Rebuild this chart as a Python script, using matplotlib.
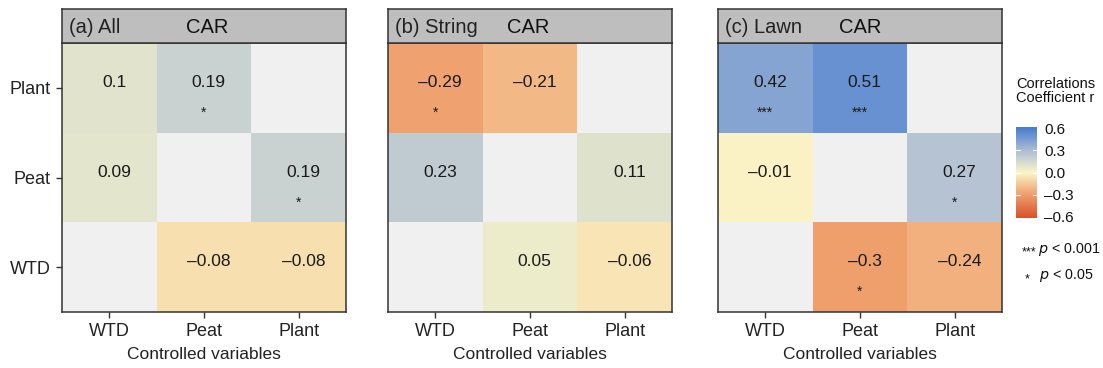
import numpy as np
import matplotlib
matplotlib.use('Agg')
import matplotlib.pyplot as plt
from matplotlib.colors import LinearSegmentedColormap, Normalize

plt.rcParams['font.family'] = ['Liberation Sans', 'DejaVu Sans']

# Data: rows listed bottom -> top, columns left -> right
row_labels = ['WTD', 'Peat', 'Plant']
col_labels = ['WTD', 'Peat', 'Plant']
panel_titles = ['(a) All', '(b) String', '(c) Lawn']
nan = np.nan

r_all = [[nan, -0.08, -0.08],
         [0.09, nan, 0.19],
         [0.10, 0.19, nan]]
sig_all = [['', '', ''],
           ['', '', '*'],
           ['', '*', '']]

r_string = [[nan, 0.05, -0.06],
            [0.23, nan, 0.11],
            [-0.29, -0.21, nan]]
sig_string = [['', '', ''],
              ['', '', ''],
              ['*', '', '']]

r_lawn = [[nan, -0.30, -0.24],
          [-0.01, nan, 0.27],
          [0.42, 0.51, nan]]
sig_lawn = [['', '*', ''],
            ['', '', '*'],
            ['***', '***', '']]

r_values = [r_all, r_string, r_lawn]
sig_values = [sig_all, sig_string, sig_lawn]
cbar_ticks = [0.6, 0.3, 0.0, -0.3, -0.6]

# colour scale
lim = 0.62
nodes = [(-0.6, '#d9572e'), (-0.3, '#ef9f6c'), (0.0, '#faf6c8'),
         (0.3, '#aebdd4'), (0.6, '#4a7fd0')]
cmap = LinearSegmentedColormap.from_list(
    'corr', [((v + lim) / (2 * lim), c) for v, c in
             [(-lim, '#d6532b')] + nodes + [(lim, '#477dd0')]])
cmap.set_bad('#f0f0f0')
norm = Normalize(-lim, lim)

W, H = 1103, 368
fig = plt.figure(figsize=(W / 100, H / 100), dpi=100)

lefts = [62, 388, 718]
car_x = [0.437, 0.419, 0.426]
ax_w = 284
top_strip, strip_bot, bottom = 9, 43, 312
edge = '#333333'
txt = '#1a1a1a'

for i in range(3):
    ax = fig.add_axes([lefts[i] / W, (H - bottom) / H, ax_w / W, (bottom - strip_bot) / H])
    data = np.ma.masked_invalid(np.array(r_values[i]))
    ax.pcolormesh(np.arange(4), np.arange(4), data, cmap=cmap, norm=norm)
    for r in range(3):
        for c in range(3):
            v = r_values[i][r][c]
            if np.isnan(v):
                continue
            ax.text(c + 0.55, r + 0.56, f'{v:g}'.replace('-', '\u2013'), ha='center', va='center',
                    fontsize=12.5, color=txt)
            s = sig_values[i][r][c]
            if s:
                ax.text(c + 0.5, r + 0.22, s, ha='center', va='center', fontsize=10, color=txt)
    ax.set_xlim(0, 3)
    ax.set_ylim(0, 3)
    ax.set_xticks(np.arange(3) + 0.5)
    ax.set_xticklabels(col_labels, fontsize=13, color='#222222')
    ax.set_yticks(np.arange(3) + 0.5)
    if i == 0:
        ax.set_yticklabels(row_labels, fontsize=13, color='#222222')
    else:
        ax.set_yticks([])
    ax.tick_params(length=4, width=1, color=edge, pad=4)
    ax.set_xlabel('Controlled variables', fontsize=12.5, color='#222222', labelpad=5)
    for sp in ax.spines.values():
        sp.set_color(edge)
        sp.set_linewidth(1.1)

    # grey strip on top
    st = fig.add_axes([lefts[i] / W, (H - strip_bot) / H, ax_w / W, (strip_bot - top_strip) / H])
    st.set_facecolor('#bebebe')
    st.set_xticks([])
    st.set_yticks([])
    for sp in st.spines.values():
        sp.set_color(edge)
        sp.set_linewidth(1.1)
    st.text(0.025, 0.47, panel_titles[i], ha='left', va='center', fontsize=14.5, color='#222222')
    st.text(car_x[i], 0.47, 'CAR', ha='left', va='center', fontsize=14.5, color='#111111')

# colourbar legend
fig.text(1016 / W, (H - 91) / H, 'Correlations\nCoefficient r', ha='left', va='center',
         fontsize=10.5, color='#111111', linespacing=1.0)
cax = fig.add_axes([1016 / W, (H - 218) / H, 21 / W, 91 / H])
grad = np.linspace(-lim, lim, 256).reshape(-1, 1)
cax.imshow(grad, cmap=cmap, norm=norm, aspect='auto', origin='lower',
           extent=[0, 1, -lim, lim])
cax.set_xlim(0, 1)
cax.set_ylim(-lim, lim)
cax.set_xticks([])
cax.yaxis.tick_right()
cax.set_yticks(cbar_ticks)
cax.set_yticklabels([f'{t:.1f}'.replace('-', '\u2013') for t in cbar_ticks], fontsize=11,
                    color='#111111')
cax.tick_params(axis='y', length=0, pad=5)
for sp in cax.spines.values():
    sp.set_visible(False)
for t in cbar_ticks[1:-1]:
    cax.plot([0, 0.2], [t, t], color='white', lw=0.8)
    cax.plot([0.8, 1], [t, t], color='white', lw=0.8)

fig.text(1036 / W, (H - 252) / H, '***', ha='right', va='center', fontsize=9, color='#111111')
fig.text(1038 / W, (H - 249) / H, r'$\mathit{p}$ < 0.001', ha='left', va='center', fontsize=10.3,
         color='#111111')
fig.text(1030 / W, (H - 279) / H, '*', ha='right', va='center', fontsize=9, color='#111111')
fig.text(1039 / W, (H - 276) / H, r'$\mathit{p}$ < 0.05', ha='left', va='center', fontsize=10.3,
         color='#111111')

fig.savefig('out.png', dpi=100)
